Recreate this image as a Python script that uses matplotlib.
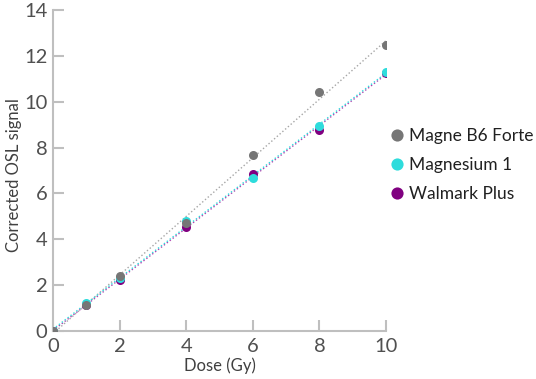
import numpy as np
import matplotlib.pyplot as plt

plt.rcParams['font.family'] = ['Lato', 'DejaVu Sans']

dose = [0, 1, 2, 4, 6, 8, 10]
magne_b6 = [0, 1.15, 2.4, 4.7, 7.67, 10.42, 12.47]
magnesium1 = [0, 1.2, 2.3, 4.8, 6.67, 8.92, 11.3]
walmark = [0, 1.15, 2.22, 4.54, 6.85, 8.77, 11.25]

labels = ['Magne B6 Forte', 'Magnesium 1', 'Walmark Plus']
colors = ['#767676', '#2EDCDC', '#800080']
line_colors = ['#A6A6A6', '#2EDCDC', '#B040B0']

fig = plt.figure(figsize=(5.36, 3.79), dpi=100)
ax = fig.add_axes([53/536, 48/379, 333/536, 321/379])

series = [magne_b6, magnesium1, walmark]
x = np.array(dose)
# trend lines first (under the markers), purple under cyan
for idx in [0, 2, 1]:
    y = np.array(series[idx])
    k, b = np.polyfit(x, y, 1)
    ax.plot([0, 10], [b, k*10 + b], ':', color=line_colors[idx], lw=1.0, zorder=2)

zs = [5, 4, 3]
for y, c, lab, z in zip(series, colors, labels, zs):
    ax.plot(dose, y, 'o', color=c, ms=6.5, mec='none', label=lab, zorder=z)

ax.set_xlim(0, 10)
ax.set_ylim(0, 14)
ax.set_xticks([0, 2, 4, 6, 8, 10])
ax.set_yticks(range(0, 15, 2))
for s in ['top', 'right']:
    ax.spines[s].set_visible(False)
for s in ['left', 'bottom']:
    ax.spines[s].set_color('#BFBFBF')
    ax.spines[s].set_linewidth(1.5)
ax.tick_params(direction='in', length=8, width=1.5, color='#BFBFBF',
               labelsize=14.5, labelcolor='#505050')
ax.tick_params(axis='x', pad=5)
ax.tick_params(axis='y', pad=4)
ax.set_xlabel('Dose (Gy)', fontsize=12, color='#404040', labelpad=2)
ax.set_ylabel('Corrected OSL signal', fontsize=12, color='#404040')
ax.yaxis.set_label_coords(-0.093, 0.486)

leg = ax.legend(loc='upper left', bbox_to_anchor=(1.0, 0.642), frameon=False,
                fontsize=12.5, markerscale=1.35, handletextpad=0.3,
                labelspacing=0.75, handlelength=0.85, borderaxespad=0,
                borderpad=0.2)
for t in leg.get_texts():
    t.set_color('#202020')

fig.savefig('out.png', dpi=100)
